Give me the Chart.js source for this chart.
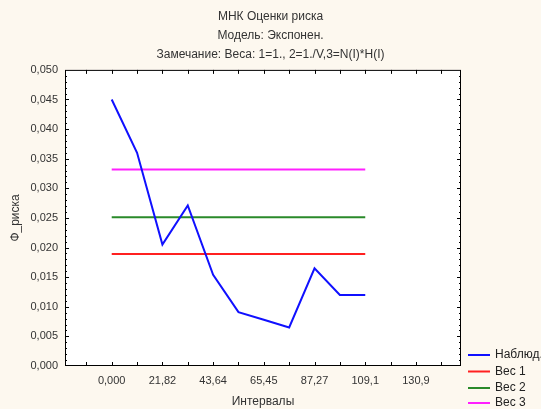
<!DOCTYPE html>
<html>
<head>
<meta charset="utf-8">
<script src="https://cdn.jsdelivr.net/npm/chart.js@4"></script>
<style>
  html, body { margin: 0; padding: 0; background: #fdf8ef; }
  #wrap { width: 541px; height: 409px; }
</style>
</head>
<body>
<div id="wrap"><canvas id="riskChart"></canvas></div>
<script>
// data
var intervals = [0, 10.91, 21.82, 32.73, 43.64, 54.55, 65.45, 76.36, 87.27, 98.18, 109.1];
var observed = [0.0450, 0.0360, 0.0205, 0.0271, 0.0154, 0.0091, 0.0078, 0.0065, 0.0165, 0.0120, 0.0120];
var weight1 = 0.0189;
var weight2 = 0.0251;
var weight3 = 0.0332;
var xTickValues = [0, 21.82, 43.64, 65.45, 87.27, 109.1, 130.9];
var xTickLabels = ['0,000', '21,82', '43,64', '65,45', '87,27', '109,1', '130,9'];
var seriesLabels = ['Наблюд.', 'Вес 1', 'Вес 2', 'Вес 3'];
var seriesColors = ['#1010ff', '#ff2020', '#2a8a2a', '#ff20ff'];

var FONT = "'Liberation Sans', Arial, sans-serif";

function flatLine(v) {
    return [{ x: intervals[0], y: v }, { x: intervals[intervals.length - 1], y: v }];
}

// cream page, white plot, black frame with inward ticks, legend at bottom right
var framePlugin = {
    id: 'frame',
    beforeDraw: function (chart) {
        var c = chart.ctx, a = chart.chartArea;
        c.save();
        c.fillStyle = '#fdf8ef';
        c.fillRect(0, 0, chart.width, chart.height);
        c.fillStyle = '#ffffff';
        c.fillRect(a.left, a.top, a.right - a.left, a.bottom - a.top);
        c.restore();
    },
    afterDraw: function (chart) {
        var c = chart.ctx, a = chart.chartArea;
        var xs = chart.scales.x, ys = chart.scales.y;
        c.save();
        c.strokeStyle = '#000';
        c.lineWidth = 1;
        c.strokeRect(a.left + 0.5, a.top + 0.5, a.right - a.left - 1, a.bottom - a.top - 1);
        c.beginPath();
        for (var i = -1; i <= 13; i++) {
            var px = Math.round(xs.getPixelForValue(i * 10.91)) + 0.5;
            if (px <= a.left + 1 || px >= a.right - 1) continue;
            c.moveTo(px, a.bottom); c.lineTo(px, a.bottom - 4);
            c.moveTo(px, a.top); c.lineTo(px, a.top + 4);
        }
        for (var j = 1; j < 50; j++) {
            var py = Math.round(ys.getPixelForValue(j * 0.001)) + 0.5;
            var len = (j % 5 === 0) ? 4 : 2;
            c.moveTo(a.left, py); c.lineTo(a.left + len, py);
            c.moveTo(a.right, py); c.lineTo(a.right - len, py);
        }
        c.stroke();

        // legend
        c.font = '12px ' + FONT;
        c.textBaseline = 'middle';
        c.fillStyle = '#222';
        var rows = [355, 371.5, 388, 403];
        chart.data.datasets.forEach(function (ds, k) {
            c.strokeStyle = ds.borderColor;
            c.lineWidth = 2;
            c.beginPath();
            c.moveTo(468, rows[k]); c.lineTo(490, rows[k]);
            c.stroke();
            c.fillText(ds.label, 495, rows[k]);
        });
        c.restore();
    }
};

var ctx = document.getElementById('riskChart').getContext('2d');
var riskChart = new Chart(ctx, {
    type: 'line',
    data: {
        datasets: [
            { label: seriesLabels[0], data: intervals.map(function (x, i) { return { x: x, y: observed[i] }; }), borderColor: seriesColors[0] },
            { label: seriesLabels[1], data: flatLine(weight1), borderColor: seriesColors[1] },
            { label: seriesLabels[2], data: flatLine(weight2), borderColor: seriesColors[2] },
            { label: seriesLabels[3], data: flatLine(weight3), borderColor: seriesColors[3] }
        ]
    },
    options: {
        responsive: true,
        maintainAspectRatio: false,
        animation: false,
        layout: { padding: 0 },
        elements: {
            point: { radius: 0 },
            line: { borderWidth: 2, tension: 0, fill: false }
        },
        scales: {
            x: {
                type: 'linear',
                min: -20.1,
                max: 150.3,
                grid: { display: false, drawTicks: false },
                border: { display: false },
                afterBuildTicks: function (scale) {
                    scale.ticks = xTickValues.map(function (v) { return { value: v }; });
                },
                afterFit: function (scale) { scale.height = 43; },
                ticks: {
                    autoSkip: false,
                    maxRotation: 0,
                    padding: 8,
                    color: '#333',
                    font: { family: FONT, size: 11 },
                    callback: function (v, i) { return xTickLabels[i]; }
                },
                title: {
                    display: true,
                    text: 'Интервалы',
                    color: '#333',
                    padding: { top: 0, bottom: 0 },
                    font: { family: FONT, size: 12 }
                }
            },
            y: {
                min: 0,
                max: 0.05,
                grid: { display: false, drawTicks: false },
                border: { display: false },
                afterFit: function (scale) { scale.width = 65; },
                ticks: {
                    stepSize: 0.005,
                    padding: 7,
                    color: '#333',
                    font: { family: FONT, size: 11 },
                    callback: function (v) { return v.toFixed(3).replace('.', ','); }
                },
                title: {
                    display: true,
                    text: 'Ф_риска',
                    color: '#333',
                    padding: { top: 8, bottom: 0 },
                    font: { family: FONT, size: 12 }
                }
            },
            // empty right axis keeps room for the legend so the title centres on the page
            yRight: {
                position: 'right',
                display: true,
                grid: { display: false, drawTicks: false },
                border: { display: false },
                ticks: { display: false },
                afterFit: function (scale) { scale.width = 80; }
            }
        },
        plugins: {
            legend: { display: false },
            tooltip: { enabled: false },
            title: {
                display: true,
                text: ['МНК Оценки риска', 'Модель: Экспонен.', 'Замечание: Веса: 1=1., 2=1./V,3=N(I)*H(I)'],
                color: '#333',
                font: { family: FONT, size: 12, weight: 'normal', lineHeight: 1.58 },
                padding: { top: 7, bottom: 6 }
            }
        }
    },
    plugins: [framePlugin]
});
</script>
</body>
</html>
